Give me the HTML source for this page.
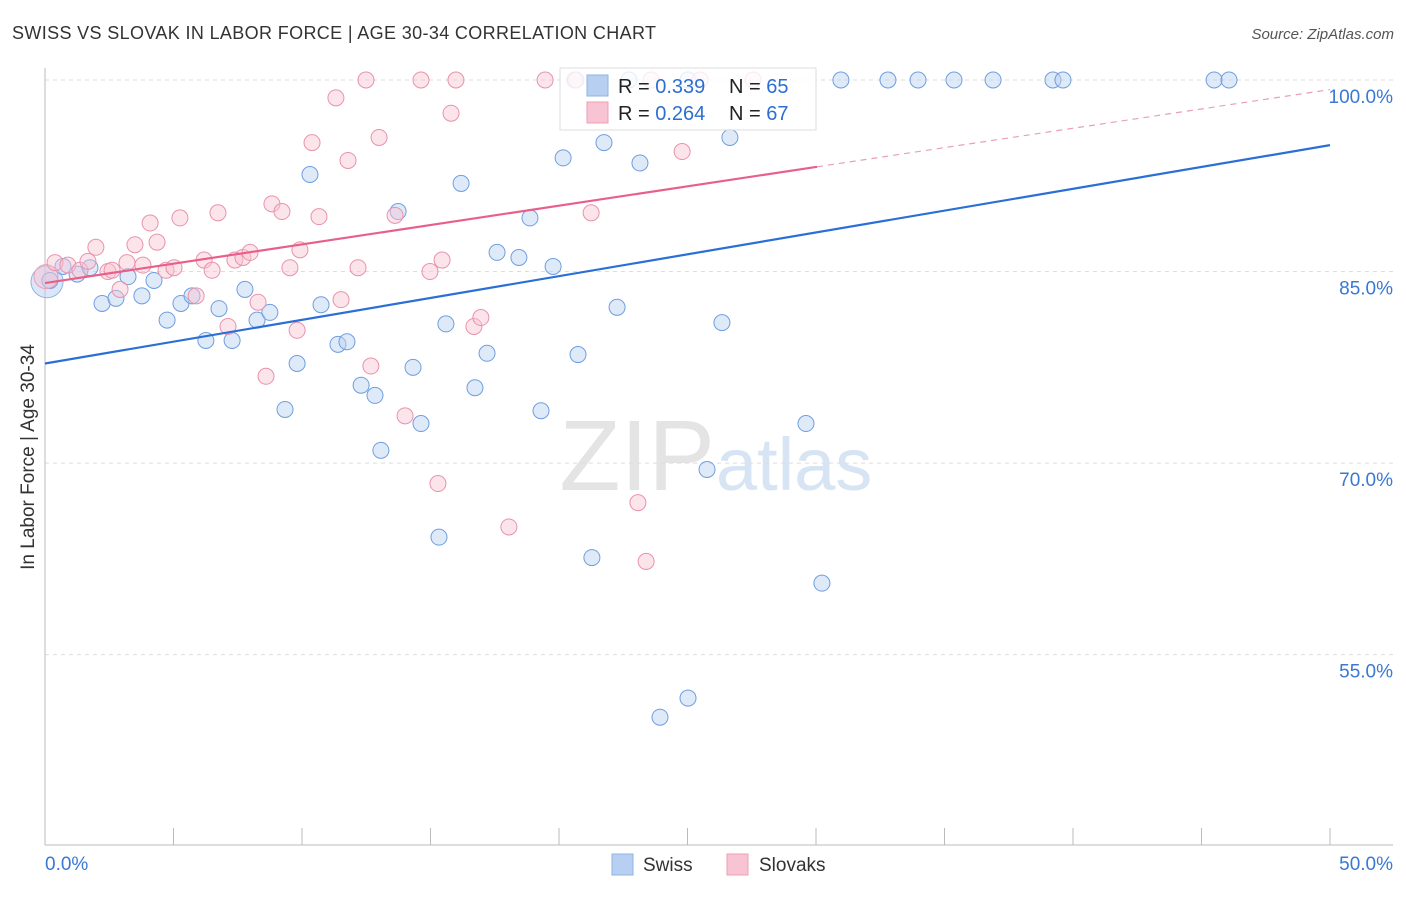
<!DOCTYPE html>
<html><head><meta charset="utf-8"><style>
body{margin:0;background:#fff;font-family:"Liberation Sans",sans-serif}
svg text{font-family:"Liberation Sans",sans-serif}
</style></head><body>
<svg id="chart" width="1406" height="892" xmlns="http://www.w3.org/2000/svg">
<text x="12" y="39" font-size="18" fill="#333" textLength="644">SWISS VS SLOVAK IN LABOR FORCE | AGE 30-34 CORRELATION CHART</text>
<text x="1394" y="39" font-size="15" fill="#555" text-anchor="end" font-style="italic">Source: ZipAtlas.com</text>
<text x="715" y="490" font-size="100" text-anchor="end" fill="#e4e4e4" font-family="Liberation Serif">ZIP</text>
<text x="716" y="490" font-size="74" fill="#d6e4f4">atlas</text>
<g id="grid"></g>
<g id="axes"></g>
<g id="marks"></g>
<g id="lines"></g>
<g>
<rect x="560" y="68" width="256" height="62" fill="#fff" fill-opacity="0.8" stroke="#ddd"/>
<rect x="587" y="75" width="21" height="21" fill="#b7d0f2" stroke="#8fb2e6"/>
<rect x="587" y="102" width="21" height="21" fill="#f8c3d2" stroke="#ee9fb6"/>
<text x="618" y="93" font-size="20" fill="#222">R = <tspan fill="#2d6fd1">0.339</tspan></text>
<text x="729" y="93" font-size="20" fill="#222">N = <tspan fill="#2d6fd1">65</tspan></text>
<text x="618" y="120" font-size="20" fill="#222">R = <tspan fill="#2d6fd1">0.264</tspan></text>
<text x="729" y="120" font-size="20" fill="#222">N = <tspan fill="#2d6fd1">67</tspan></text>
</g>
<g>
<rect x="612" y="854" width="21" height="21" fill="#b7d0f2" stroke="#8fb2e6"/>
<text x="643" y="871" font-size="19" fill="#333">Swiss</text>
<rect x="727" y="854" width="21" height="21" fill="#f8c3d2" stroke="#ee9fb6"/>
<text x="759" y="871" font-size="19" fill="#333">Slovaks</text>
</g>
<text transform="translate(34,457) rotate(-90)" font-size="19" fill="#333" text-anchor="middle">In Labor Force | Age 30-34</text>
</svg>
<script>
const yTicks=[100,85,70,55];
const yTickLabels=["100.0%","85.0%","70.0%","55.0%"];
const xTickLabels=["0.0%","50.0%"];
const swissX=[0.19,0.70,1.25,1.75,2.22,2.76,3.23,3.77,4.24,4.75,5.29,5.72,6.26,6.77,7.28,7.78,8.25,8.75,9.34,9.81,10.31,10.74,11.40,11.75,12.30,12.84,13.07,13.74,14.32,14.63,15.33,15.60,16.19,16.73,17.20,17.59,18.44,18.87,19.30,19.77,20.16,20.74,21.28,21.75,22.26,23.15,23.93,25.02,25.76,26.34,26.65,29.61,30.23,20.62,22.72,25.02,30.97,32.80,33.97,35.37,36.89,39.22,39.61,45.49,46.07];
const swissY=[84.3,85.4,84.8,85.3,82.5,82.9,84.6,83.1,84.3,81.2,82.5,83.1,79.6,82.1,79.6,83.6,81.2,81.8,74.2,77.8,92.6,82.4,79.3,79.5,76.1,75.3,71.0,89.7,77.5,73.1,64.2,80.9,91.9,75.9,78.6,86.5,86.1,89.2,74.1,85.4,93.9,78.5,62.6,95.1,82.2,93.5,50.1,51.6,69.5,81.0,95.5,73.1,60.6,100,100,100,100,100,100,100,100,100,100,100,100];
const slovX=[0.39,0.89,1.36,1.67,1.98,2.45,2.61,2.92,3.19,3.50,3.81,4.09,4.36,4.71,5.02,5.25,5.88,6.19,6.50,6.73,7.12,7.39,7.70,7.98,8.29,8.60,8.83,9.22,9.53,9.81,9.92,10.39,10.66,11.32,11.52,11.79,12.18,12.49,12.68,13.00,13.62,14.01,14.63,14.98,15.29,15.45,15.80,15.99,16.69,16.96,18.05,19.46,20.66,21.25,23.07,23.39,23.58,24.79,25.49,27.55];
const slovY=[85.7,85.5,85.1,85.8,86.9,85.0,85.1,83.6,85.7,87.1,85.5,88.8,87.3,85.1,85.3,89.2,83.1,85.9,85.1,89.6,80.7,85.9,86.1,86.5,82.6,76.8,90.3,89.7,85.3,80.4,86.7,95.1,89.3,98.6,82.8,93.7,85.3,100,77.6,95.5,89.4,73.7,100,85.0,68.4,85.9,97.4,100,80.7,81.4,65.0,100,100,89.6,66.9,62.3,100,94.4,100,100];
const swissTrend=[77.8,94.9];
const slovTrend=[84.1,99.25];
const slovSolidEnd=30.04;
const X=v=>45+v*25.7, Y=v=>80+(100-v)*12.77;
const NS="http://www.w3.org/2000/svg";
function mk(p,t,a){const e=document.createElementNS(NS,t);for(const k in a)e.setAttribute(k,a[k]);p.appendChild(e);return e;}
const grid=document.getElementById('grid'),axes=document.getElementById('axes'),marks=document.getElementById('marks'),lines=document.getElementById('lines');
yTicks.forEach((t,i)=>{
 const l=mk(grid,'line',{x1:45,x2:1393,y1:Y(t),y2:Y(t),stroke:'#ddd','stroke-dasharray':'4,4'});
 
 
 const tx=mk(axes,'text',{x:1393,y:Y(t)+23,'font-size':19,fill:'#3a78d4','text-anchor':'end'});
 tx.textContent=yTickLabels[i];
 
 
});
let a=mk(axes,'line',{x1:45,x2:45,y1:68,y2:845,stroke:'#bbb'});


a=mk(axes,'line',{x1:45,x2:1393,y1:845,y2:845,stroke:'#bbb'});


for(let i=0;i<=10;i++){const t=mk(axes,'line',{x1:X(i*5),x2:X(i*5),y1:828,y2:845,stroke:'#bbb'});
 
 }
[[0,'start',45],[50,'end',1393]].forEach((d,i)=>{const t=mk(axes,'text',{x:d[2],y:870,'font-size':19,fill:'#3a78d4','text-anchor':d[1]});t.textContent=xTickLabels[i];
 
 });
function dots(xs,ys,fill,stroke,name){xs.forEach((x,i)=>{const c=mk(marks,'circle',{cx:X(x),cy:Y(ys[i]),r:8,fill:fill,'fill-opacity':0.45,stroke:stroke,'stroke-width':1});
 
 });}
let big=mk(marks,'circle',{cx:47,cy:Y(84.2),r:16,fill:'#b7d0f2','fill-opacity':0.5,stroke:'#8fb2e6'});


dots(swissX,swissY,'#b7d0f2','#6f9ee0','swiss-point');
big=mk(marks,'circle',{cx:46,cy:Y(84.6),r:12,fill:'#f8c3d2','fill-opacity':0.5,stroke:'#ee9fb6'});


dots(slovX,slovY,'#f8c3d2','#e992ad','slovak-point');
let ln=mk(lines,'line',{x1:X(0),y1:Y(swissTrend[0]),x2:X(50),y2:Y(swissTrend[1]),stroke:'#2a6fd6','stroke-width':2.2});


const sl=(slovTrend[1]-slovTrend[0])/50;
ln=mk(lines,'line',{x1:X(0),y1:Y(slovTrend[0]),x2:X(slovSolidEnd),y2:Y(slovTrend[0]+sl*slovSolidEnd),stroke:'#e8608a','stroke-width':2.2});


ln=mk(lines,'line',{x1:X(slovSolidEnd),y1:Y(slovTrend[0]+sl*slovSolidEnd),x2:X(50),y2:Y(slovTrend[1]),stroke:'#e8a0b6','stroke-width':1.2,'stroke-dasharray':'6,5'});


</script>
</body></html>
